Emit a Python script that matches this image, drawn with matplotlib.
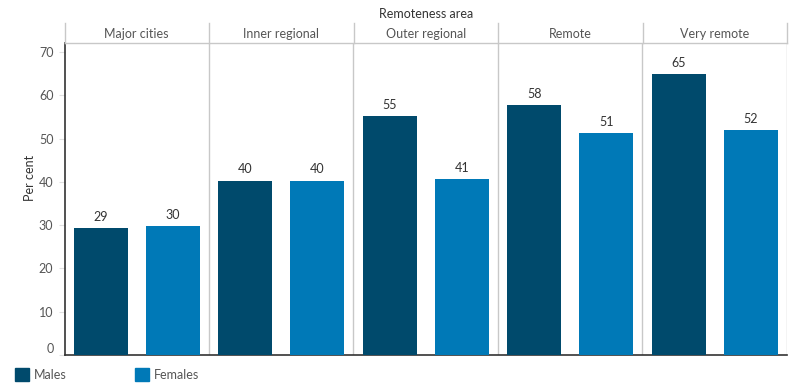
import numpy as np
import matplotlib.pyplot as plt
from matplotlib.lines import Line2D
from matplotlib.patches import Rectangle

plt.rcParams["font.family"] = ["Lato", "DejaVu Sans"]

# data
areas = ["Major cities", "Inner regional", "Outer regional", "Remote", "Very remote"]
males = [29.3, 40.3, 55.2, 57.7, 64.9]
females = [29.8, 40.3, 40.6, 51.3, 52.0]
male_labels = ["29", "40", "55", "58", "65"]
female_labels = ["30", "40", "41", "51", "52"]
yticks = [0, 10, 20, 30, 40, 50, 60, 70]

male_col = "#004A6C"
female_col = "#0079B7"
text_col = "#333333"
tick_col = "#555555"
grid_col = "#C8C8C8"

W, H = 800, 388
fig = plt.figure(figsize=(W / 100, H / 100), dpi=100)

x0, x1 = 64.5, 787
y_bot, y_head, y_top = 355, 43, 23
ax = fig.add_axes([x0 / W, (H - y_bot) / H, (x1 - x0) / W, (y_bot - y_head) / H])

n = len(areas)
pos = np.arange(n) * 2
ax.bar(pos + 0.5, males, width=0.75, color=male_col, zorder=3)
ax.bar(pos + 1.5, females, width=0.75, color=female_col, zorder=3)

for i in range(n):
    ax.text(pos[i] + 0.5, males[i] + 1.2, male_labels[i], ha="center", va="bottom",
            fontsize=9, color=text_col)
    ax.text(pos[i] + 1.5, females[i] + 1.2, female_labels[i], ha="center", va="bottom",
            fontsize=9, color=text_col)

ax.set_xlim(0, 2 * n)
ax.set_ylim(0, 72.1)
ax.set_xticks([])
ax.set_yticks(yticks)
ax.set_yticklabels([str(t) for t in yticks], fontsize=9, color=tick_col)
ax.get_yticklabels()[0].set_va("bottom")
ax.tick_params(axis="y", length=4, color="#E0E0E0", pad=4)

for s in ["top", "right"]:
    ax.spines[s].set_visible(False)
ax.spines["left"].set_color("#333333")
ax.spines["bottom"].set_color("#333333")
ax.spines["left"].set_linewidth(1.2)
ax.spines["bottom"].set_linewidth(1.2)

# panel separators
for i in range(1, n + 1):
    ax.axvline(2 * i, color=grid_col, lw=1, zorder=1)

# header row
for i in range(n + 1):
    xx = (x0 + i * (x1 - x0) / n) / W
    fig.add_artist(Line2D([xx, xx], [(H - y_head) / H, (H - y_top) / H], color=grid_col, lw=1))
fig.add_artist(Line2D([x0 / W, x1 / W], [(H - y_head) / H, (H - y_head) / H], color=grid_col, lw=1))
for i, a in enumerate(areas):
    xc = (x0 + (i + 0.5) * (x1 - x0) / n) / W
    fig.text(xc, (H - 34) / H, a, ha="center", va="center", fontsize=9, color=tick_col)
fig.text((x0 + x1) / 2 / W, (H - 14) / H, "Remoteness area", ha="center", va="center",
         fontsize=9, color=text_col)

fig.text(30 / W, (H - 178) / H, "Per cent", rotation=90, ha="center", va="center",
         fontsize=9, color=text_col)

# legend
for lx, lab, col in [(15, "Males", male_col), (135, "Females", female_col)]:
    fig.add_artist(Rectangle((lx / W, (H - 381) / H), 14 / W, 13 / H, color=col,
                             transform=fig.transFigure))
    fig.text((lx + 19) / W, (H - 375) / H, lab, ha="left", va="center", fontsize=9,
             color=tick_col)

fig.savefig("out.png", dpi=100)
